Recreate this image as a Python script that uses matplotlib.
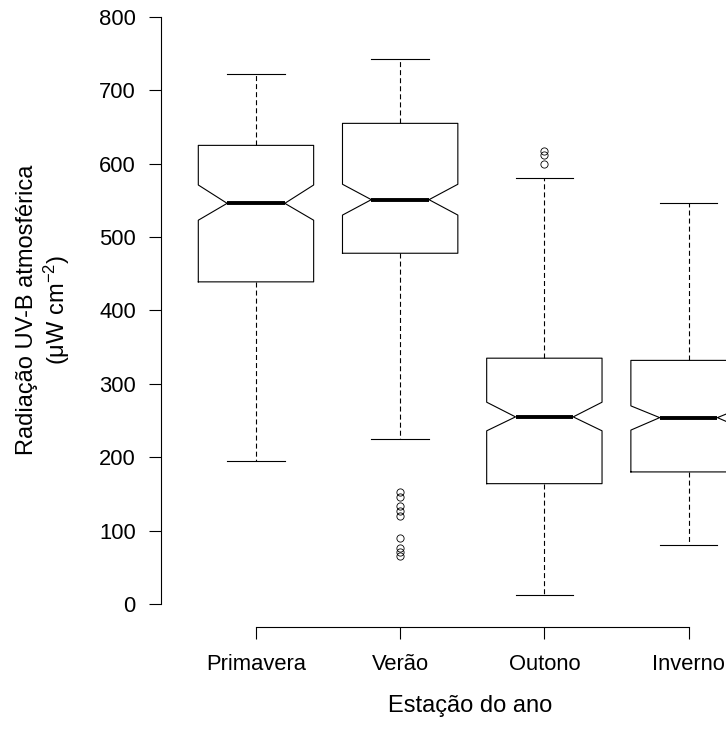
import numpy as np
import matplotlib
matplotlib.use("Agg")
import matplotlib.pyplot as plt

plt.rcParams['font.family'] = ['Liberation Sans', 'DejaVu Sans']
plt.rcParams['mathtext.fontset'] = 'custom'
plt.rcParams['mathtext.rm'] = 'Liberation Sans'
plt.rcParams['mathtext.it'] = 'Liberation Sans:italic'
plt.rcParams['lines.scale_dashes'] = False

# Estatísticas (µW cm^-2)
estacoes = ['Primavera', 'Verão', 'Outono', 'Inverno']
q1 = [439, 478, 164, 180]
mediana = [546, 551, 255, 254]
q3 = [625, 655, 335, 332]
bigode_inf = [195, 225, 12, 80]
bigode_sup = [722, 743, 580, 546]
entalhe_inf = [523, 530, 236, 237]
entalhe_sup = [571, 572, 275, 270]
atipicos = [[],
            [152, 146, 133, 127, 120, 90, 76, 71, 66],
            [617, 612, 600],
            []]

stats = []
for i, nome in enumerate(estacoes):
    stats.append(dict(label=nome, med=mediana[i], q1=q1[i], q3=q3[i],
                      whislo=bigode_inf[i], whishi=bigode_sup[i],
                      cilo=entalhe_inf[i], cihi=entalhe_sup[i],
                      fliers=atipicos[i]))

fig = plt.figure(figsize=(7.26, 7.34), dpi=100)
# eixo propositalmente maior que a figura (o original está cortado à direita)
ax = fig.add_axes([0.2215, 0.1451, 0.858, 0.8638])

ax.bxp(stats, positions=[1, 2, 3, 4], widths=0.8, shownotches=True,
       boxprops=dict(color='black', linewidth=0.8),
       medianprops=dict(color='black', linewidth=2.8, solid_capstyle='butt'),
       whiskerprops=dict(color='black', linewidth=0.8, linestyle=(0, (3.6, 2.2))),
       capprops=dict(color='black', linewidth=0.8),
       flierprops=dict(marker='o', markersize=5.2, markerfacecolor='none',
                       markeredgecolor='black', markeredgewidth=0.6))

ax.set_xlim(0.34, 4.66)
ax.set_ylim(-32, 832)
ax.set_yticks(np.arange(0, 801, 100))
ax.set_xticks([1, 2, 3, 4])
ax.set_xticklabels(estacoes)

for lado in ['top', 'right']:
    ax.spines[lado].set_visible(False)
ax.spines['left'].set_bounds(0, 800)
ax.spines['bottom'].set_bounds(1, 4)
ax.spines['left'].set_linewidth(0.8)
ax.spines['bottom'].set_linewidth(0.8)

ax.tick_params(axis='both', direction='out', length=8.6, width=0.8,
               labelsize=15.8, colors='black')
ax.tick_params(axis='y', pad=9.4)
ax.tick_params(axis='x', pad=10.5)

fig.text(44 / 726, 1 - 310 / 734,
         'Radiação UV-B atmosférica\n(μW cm$^{-2}$)',
         rotation=90, ha='center', va='center', fontsize=17,
         multialignment='center', linespacing=1.15)
fig.text(470 / 726, 1 - 706 / 734, 'Estação do ano',
         ha='center', va='center', fontsize=17)

fig.savefig('out.png', dpi=100)
